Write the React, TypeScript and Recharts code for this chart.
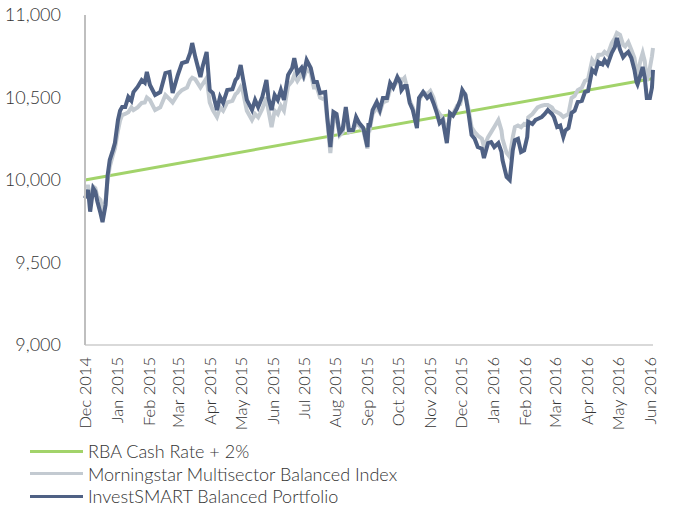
import { LineChart, Line, XAxis, YAxis, Legend } from 'recharts';

// days since 1 Dec 2014
const dayOffsets = [
  0, 3, 5, 8, 10, 12, 15, 17, 20, 22, 24, 27, 29, 32, 34, 36, 39, 42, 45, 47,
  51, 55, 58, 60, 63, 68, 73, 78, 82, 85, 90, 94, 99, 102, 104, 107, 112, 114, 118, 121,
  124, 128, 131, 134, 138, 143, 146, 148, 151, 153, 157, 162, 165, 168, 172, 176, 178, 181, 184, 187,
  190, 193, 197, 201, 203, 206, 210, 212, 215, 219, 222, 225, 228, 233, 235, 238, 241, 244, 247, 250,
  253, 256, 260, 263, 266, 270, 274, 275, 276, 279, 283, 286, 289, 293, 296, 299, 303, 306, 307, 310,
  312, 315, 318, 322, 324, 328, 332, 335, 338, 341, 344, 347, 351, 354, 357, 361, 364, 366, 369, 372,
  375, 378, 381, 385, 387, 391, 394, 397, 401, 404, 405, 409, 412, 415, 417, 420, 423, 426, 429, 430,
  434, 437, 439, 443, 446, 449, 453, 455, 458, 461, 464, 466, 469, 472, 475, 478, 482, 485, 488, 492,
  495, 498, 502, 504, 507, 511, 514, 516, 519, 522, 524, 527, 530, 533, 535, 536, 539, 541, 543, 545,
  548, 550, 551,
];

const investSmart = [
  9890, 9940, 9808, 9950, 9930, 9870, 9800, 9745, 9850, 10030, 10121, 10180, 10224, 10364, 10420, 10442, 10442, 10503, 10480, 10533,
  10564, 10606, 10590, 10655, 10576, 10515, 10533, 10648, 10655, 10527, 10636, 10709, 10718, 10770, 10830, 10745, 10624, 10685, 10776, 10545,
  10527, 10424, 10503, 10467, 10545, 10550, 10606, 10620, 10697, 10624, 10485, 10424, 10485, 10442, 10503, 10606, 10494, 10424, 10515, 10485,
  10545, 10485, 10636, 10679, 10739, 10648, 10679, 10640, 10727, 10679, 10594, 10594, 10527, 10533, 10382, 10200, 10412, 10400, 10285, 10310,
  10442, 10303, 10303, 10382, 10345, 10315, 10200, 10345, 10321, 10424, 10473, 10424, 10497, 10497, 10588, 10560, 10624, 10588, 10545, 10570,
  10570, 10467, 10424, 10315, 10497, 10533, 10497, 10515, 10467, 10412, 10345, 10364, 10224, 10406, 10390, 10436, 10485, 10545, 10515, 10406,
  10273, 10250, 10200, 10190, 10133, 10224, 10230, 10200, 10224, 10170, 10121, 10018, 10000, 10182, 10242, 10250, 10170, 10180, 10261, 10352,
  10340, 10364, 10370, 10382, 10400, 10424, 10400, 10380, 10321, 10330, 10261, 10300, 10315, 10406, 10420, 10473, 10480, 10533, 10540, 10667,
  10650, 10715, 10700, 10727, 10700, 10770, 10806, 10861, 10790, 10745, 10760, 10776, 10740, 10667, 10594, 10580, 10640, 10685, 10620, 10497,
  10497, 10560, 10667,
];

const morningstar = [
  9960, 9960, 9880, 9960, 9950, 9900, 9880, 9800, 9880, 10000, 10080, 10150, 10190, 10300, 10360, 10394, 10400, 10410, 10440, 10424,
  10440, 10467, 10470, 10500, 10485, 10424, 10440, 10515, 10490, 10470, 10520, 10545, 10560, 10606, 10620, 10610, 10560, 10580, 10618, 10470,
  10424, 10382, 10440, 10420, 10470, 10480, 10520, 10530, 10564, 10540, 10420, 10364, 10400, 10380, 10430, 10500, 10420, 10321, 10420, 10400,
  10450, 10420, 10570, 10600, 10636, 10600, 10640, 10620, 10670, 10650, 10560, 10560, 10500, 10485, 10360, 10164, 10360, 10380, 10270, 10290,
  10400, 10290, 10300, 10340, 10330, 10300, 10190, 10300, 10300, 10400, 10440, 10410, 10470, 10480, 10550, 10560, 10600, 10610, 10600, 10620,
  10570, 10480, 10440, 10360, 10480, 10533, 10520, 10540, 10500, 10430, 10400, 10380, 10290, 10380, 10400, 10450, 10460, 10520, 10520, 10430,
  10320, 10290, 10270, 10250, 10200, 10260, 10290, 10321, 10364, 10300, 10250, 10164, 10140, 10260, 10321, 10330, 10320, 10340, 10330, 10380,
  10400, 10424, 10440, 10450, 10455, 10455, 10440, 10420, 10410, 10400, 10382, 10390, 10400, 10497, 10510, 10545, 10560, 10600, 10610, 10727,
  10700, 10758, 10760, 10776, 10760, 10830, 10860, 10891, 10880, 10820, 10810, 10836, 10790, 10740, 10660, 10640, 10727, 10770, 10720, 10600,
  10680, 10750, 10800,
];

const rbaStart = 10000;
const rbaEnd = 10615;

const monthTicks = [0, 31, 62, 90, 121, 151, 182, 212, 243, 274, 304, 335, 365, 396, 427, 456, 487, 517, 548];
const monthLabels = [
  'Dec 2014', 'Jan 2015', 'Feb 2015', 'Mar 2015', 'Apr 2015', 'May 2015', 'Jun 2015', 'Jul 2015', 'Aug 2015',
  'Sep 2015', 'Oct 2015', 'Nov 2015', 'Dec 2015', 'Jan 2016', 'Feb 2016', 'Mar 2016', 'Apr 2016', 'May 2016', 'Jun 2016',
];
const yTicks = [9000, 9500, 10000, 10500, 11000];

const seriesNames = ['RBA Cash Rate + 2%', 'Morningstar Multisector Balanced Index', 'InvestSMART Balanced Portfolio'];
const COLORS = ['#a2d36a', '#c3cad1', '#4f6184'];

const FONT = 'Lato, "Open Sans", sans-serif';
const TEXT = '#333333';

const data = dayOffsets.map((day, i) => ({
  day,
  invest: investSmart[i],
  morning: morningstar[i],
  rba: i === 0 ? rbaStart : i === dayOffsets.length - 1 ? rbaEnd : null,
}));

function MonthTick({ x, y, payload }: any) {
  const idx = monthTicks.indexOf(payload.value);
  return (
    <text
      x={x}
      y={y}
      transform={`rotate(-90 ${x} ${y})`}
      textAnchor="end"
      dominantBaseline="central"
      fill={TEXT}
      fontSize={16.5}
      fontWeight={300}
      fontFamily={FONT}
    >
      {monthLabels[idx]}
    </text>
  );
}

function LegendBox() {
  return (
    <div style={{ paddingLeft: 30, paddingTop: 15, fontFamily: FONT, fontSize: 18, fontWeight: 300, color: TEXT }}>
      {seriesNames.map((name, i) => (
        <div key={name} style={{ display: 'flex', alignItems: 'center', height: 22.5 }}>
          <span style={{ display: 'inline-block', width: 53, height: 3, background: COLORS[i], marginRight: 5 }} />
          <span>{name}</span>
        </div>
      ))}
    </div>
  );
}

export default function App() {
  return (
    <div style={{ position: 'absolute', left: 0, top: 0, width: 673, height: 506, background: '#fff' }}>
      <LineChart width={673} height={506} data={data} margin={{ top: 15, right: 20, bottom: 0, left: 0 }}>
        <XAxis
          dataKey="day"
          type="number"
          domain={[0, 551]}
          ticks={monthTicks}
          interval={0}
          tick={<MonthTick />}
          tickLine={false}
          tickMargin={6}
          axisLine={{ stroke: '#d9d9d9', strokeWidth: 2 }}
          height={80}
        />
        <YAxis
          type="number"
          domain={[9000, 11000]}
          ticks={yTicks}
          width={85}
          tickLine={false}
          tickMargin={18}
          axisLine={{ stroke: '#bfbfbf', strokeWidth: 2 }}
          tick={{ fill: TEXT, fontSize: 18, fontWeight: 300, fontFamily: FONT }}
          tickFormatter={(v: number) => v.toLocaleString('en-US')}
        />
        <Legend verticalAlign="bottom" align="left" height={81} content={<LegendBox />} wrapperStyle={{ left: 0, width: 673 }} />
        <Line dataKey="rba" stroke={COLORS[0]} strokeWidth={3} dot={false} connectNulls isAnimationActive={false} />
        <Line dataKey="morning" stroke={COLORS[1]} strokeWidth={4} dot={false} isAnimationActive={false} />
        <Line dataKey="invest" stroke={COLORS[2]} strokeWidth={4} dot={false} isAnimationActive={false} />
      </LineChart>
    </div>
  );
}
